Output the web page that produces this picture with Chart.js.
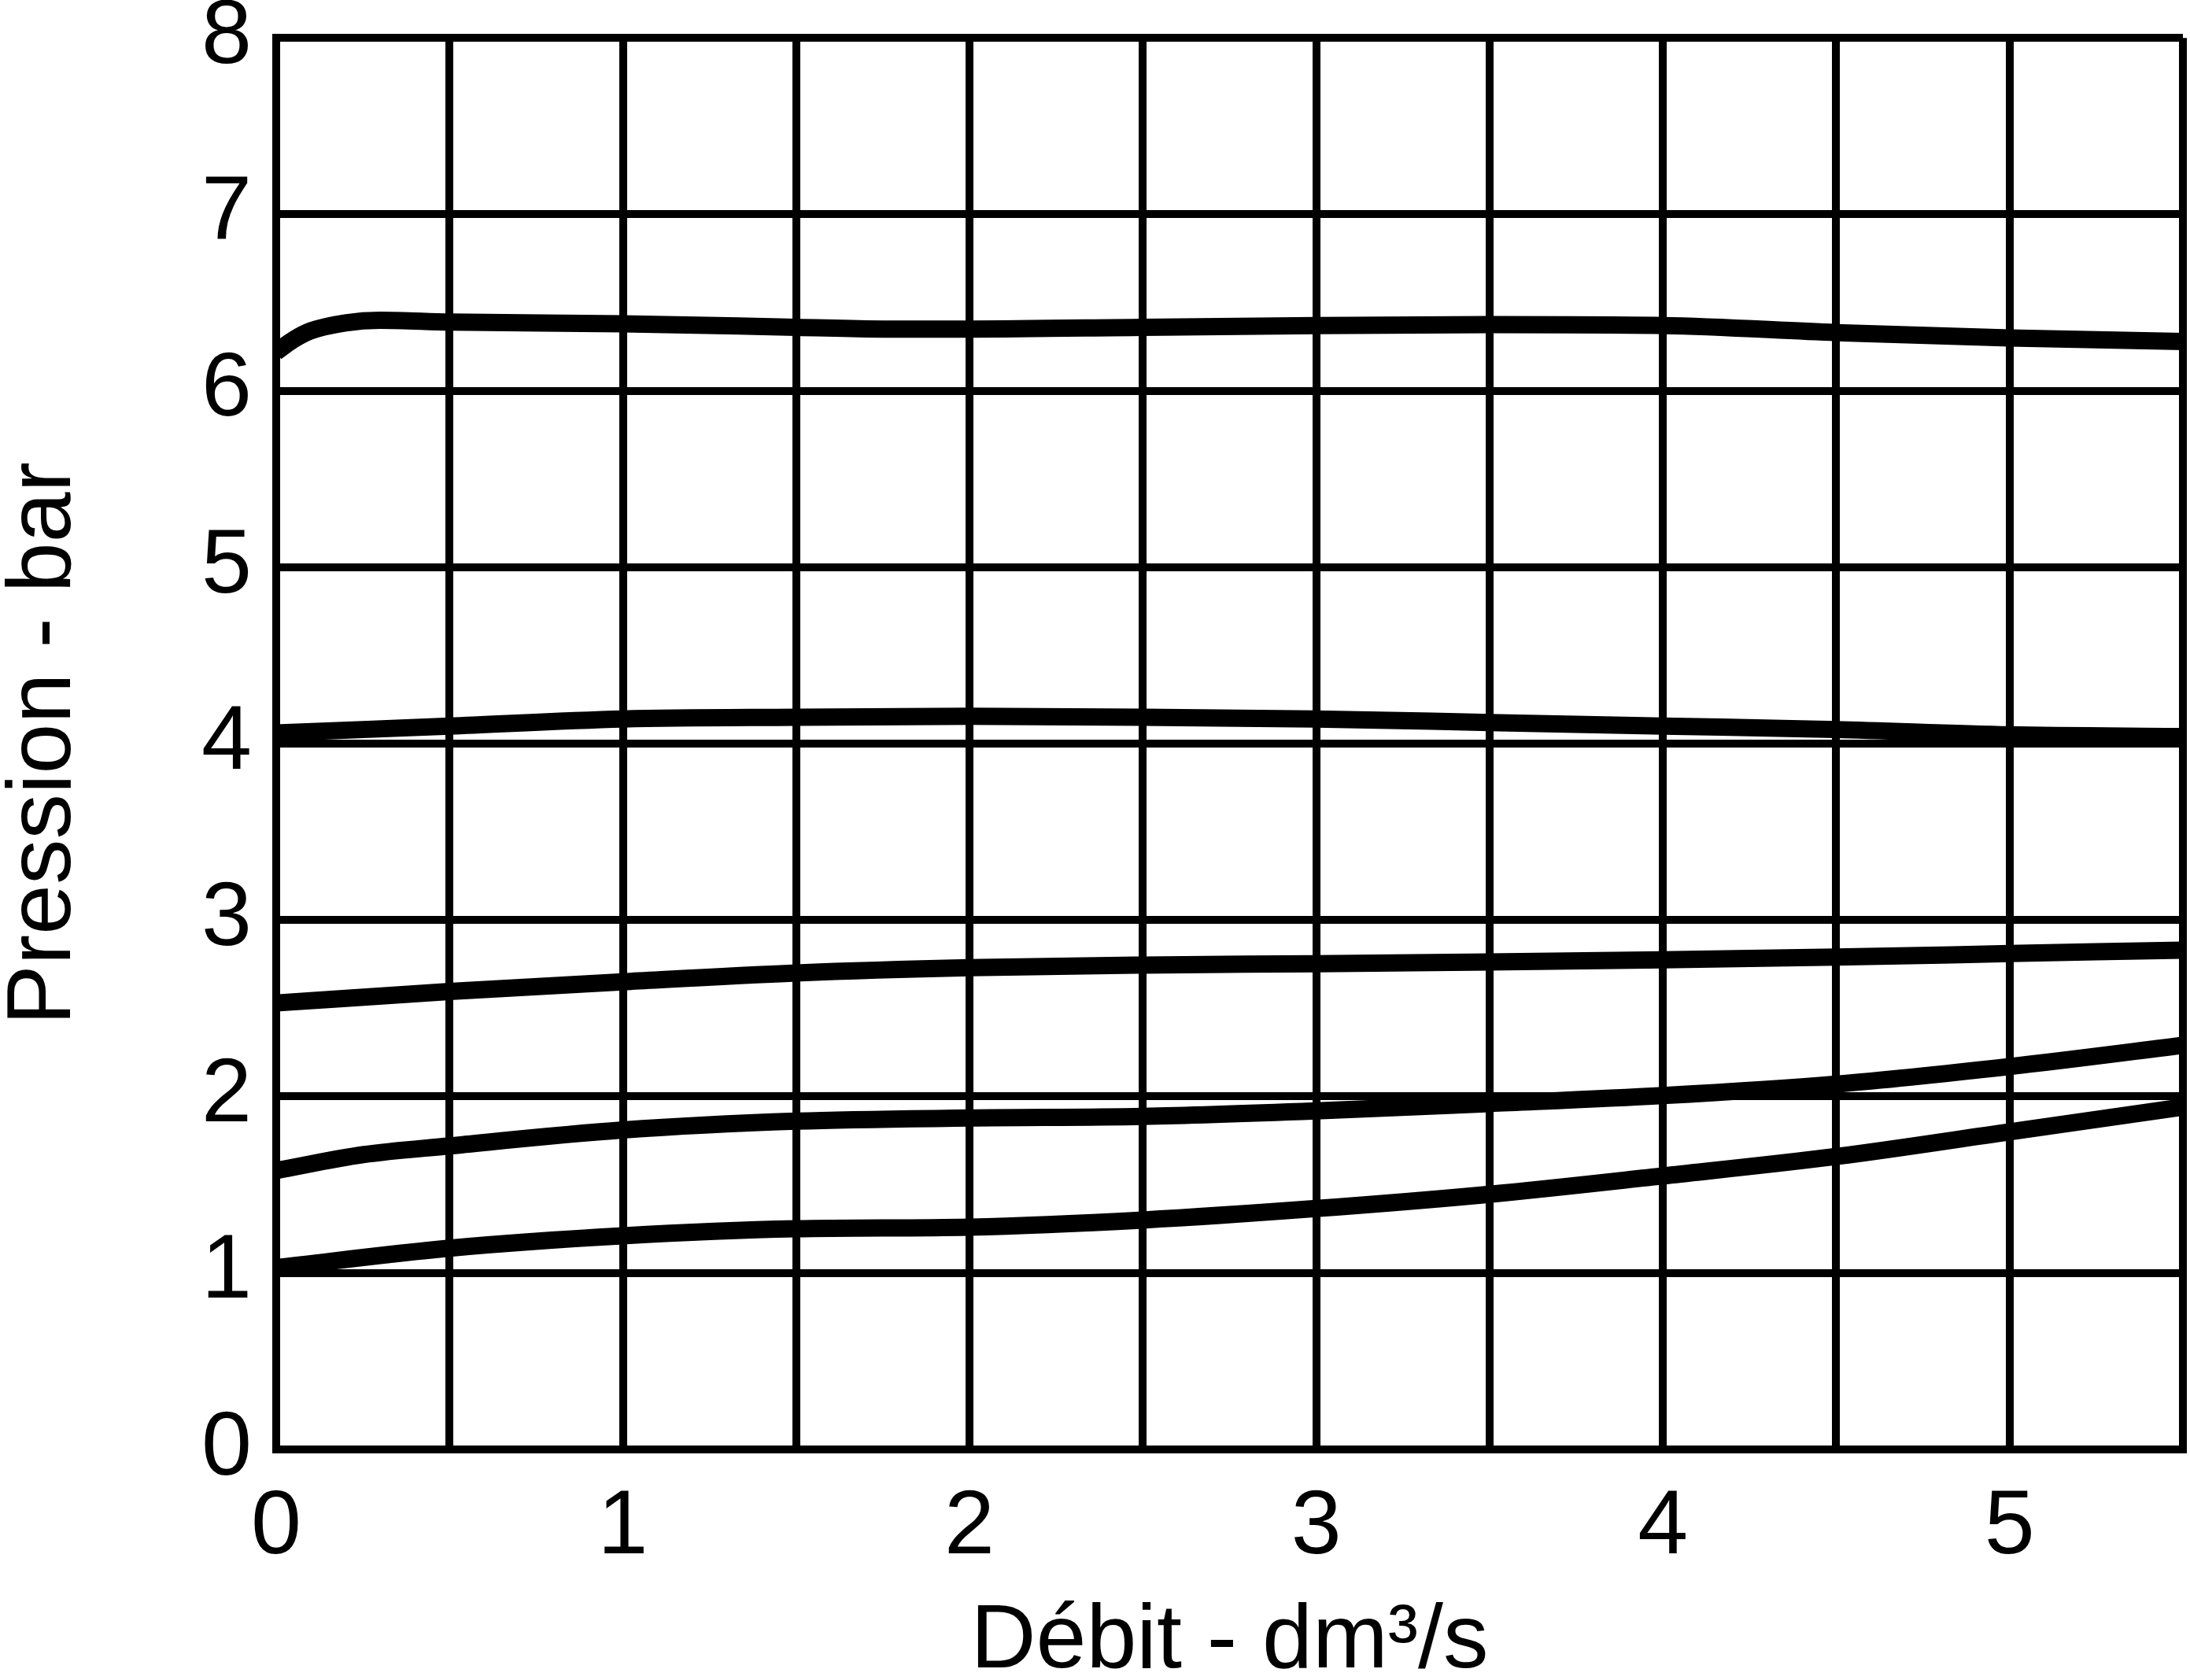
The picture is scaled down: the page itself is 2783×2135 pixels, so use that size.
<!DOCTYPE html>
<html>
<head>
<meta charset="utf-8">
<script src="https://cdn.jsdelivr.net/npm/chart.js@4/dist/chart.umd.min.js"></script>
<style>
html,body{margin:0;padding:0;background:#fff;}
#c{display:block;}
</style>
</head>
<body>
<canvas id="c" width="2783" height="2135"></canvas>
<script>
// ---- data ----
const xTitle = 'Débit - dm³/s';
const yTitle = 'Pression - bar';

const flowA = [0, 0.05, 0.1, 0.2, 0.3, 0.5, 1, 1.5, 1.75, 2, 2.5, 3, 3.5, 4, 4.5, 5, 5.5];
const presA = [6.22, 6.29, 6.34, 6.385, 6.40, 6.39, 6.38, 6.36, 6.35, 6.35, 6.36, 6.37, 6.375, 6.37, 6.33, 6.30, 6.28];

const flowB = [0, 0.5, 1, 1.5, 2, 2.5, 3, 3.5, 4, 4.5, 5, 5.5];
const presB = [4.06, 4.10, 4.14, 4.15, 4.155, 4.15, 4.14, 4.12, 4.10, 4.08, 4.05, 4.04];

const flowC = [0, 0.5, 1, 1.5, 2, 2.5, 3, 3.5, 4, 4.5, 5, 5.5];
const presC = [2.53, 2.595, 2.65, 2.70, 2.73, 2.745, 2.753, 2.763, 2.775, 2.79, 2.81, 2.83];

const flowD = [0, 0.25, 0.5, 1, 1.5, 2, 2.5, 3, 3.5, 4, 4.5, 5, 5.5];
const presD = [1.58, 1.67, 1.72, 1.81, 1.86, 1.878, 1.887, 1.918, 1.96, 2.005, 2.07, 2.17, 2.29];

const flowE = [0, 0.5, 1, 1.5, 2, 2.5, 3, 3.5, 4, 4.5, 5, 5.5];
const presE = [1.03, 1.14, 1.21, 1.25, 1.26, 1.30, 1.365, 1.446, 1.55, 1.66, 1.80, 1.94];

const xMin = 0, xMax = 5.5, xStep = 0.5;
const yMin = 0, yMax = 8, yStep = 1;

function pts(xs, ys){ return xs.map((x,i)=>({x:x, y:ys[i]})); }
function ds(xs, ys){
  return {data: pts(xs, ys), borderColor:'#000', borderWidth:22, pointRadius:0,
          cubicInterpolationMode:'monotone', fill:false, borderCapStyle:'butt', borderJoinStyle:'round'};
}

const FONT = "'Liberation Sans', Arial, Helvetica, sans-serif";

new Chart(document.getElementById('c'), {
  type: 'line',
  data: { datasets: [ds(flowA,presA), ds(flowB,presB), ds(flowC,presC), ds(flowD,presD), ds(flowE,presE)] },
  options: {
    responsive: false,
    devicePixelRatio: 1,
    animation: false,
    layout: { padding: { top: 20, right: 9, left: 0, bottom: 0 } },
    plugins: { legend: {display:false}, tooltip: {enabled:false} },
    scales: {
      x: {
        type: 'linear', min: xMin, max: xMax,
        ticks: { stepSize: xStep, color:'#000', padding: 0, maxRotation:0, autoSkip:false,
                 font:{family:FONT, size:115, lineHeight:1.74},
                 callback: v => Number.isInteger(v) ? String(v) : '' },
        grid: { color:'#000', lineWidth: 10, drawTicks:false },
        border: { color:'#000', width: 10 },
        title: { display:true, text:xTitle, color:'#000', font:{family:FONT, size:115, lineHeight:0.835},
                 padding:{top:-3, bottom:0} }
      },
      y: {
        type: 'linear', min: yMin, max: yMax,
        ticks: { stepSize: yStep, color:'#000', padding: 31,
                 font:{family:FONT, size:115, lineHeight:0.3} },
        grid: { color:'#000', lineWidth: 10, drawTicks:false },
        border: { color:'#000', width: 10 },
        title: { display:true, text:yTitle, color:'#000', font:{family:FONT, size:115, lineHeight:1},
                 padding:{top:0, bottom:110} }
      }
    }
  }
});
</script>
</body>
</html>
